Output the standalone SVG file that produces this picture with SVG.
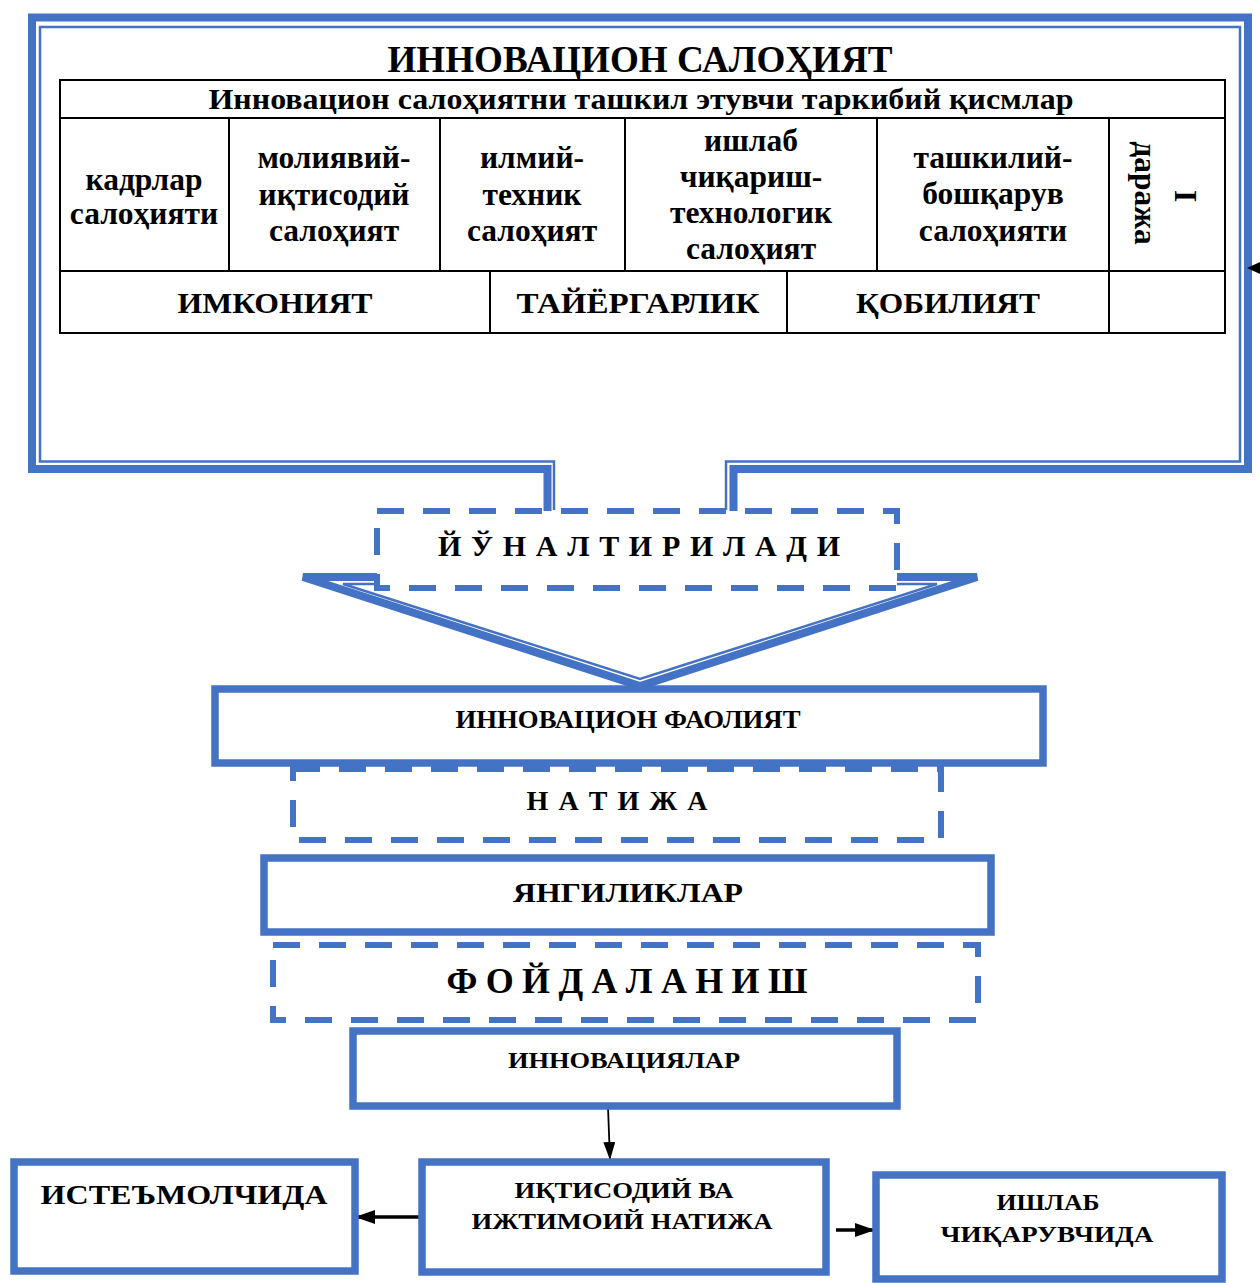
<svg xmlns="http://www.w3.org/2000/svg" width="1260" height="1283" viewBox="0 0 1260 1283">
<style>
.t{font-family:"Liberation Serif","Times New Roman",serif;font-weight:bold;fill:#000;text-anchor:middle}
.thick{fill:none;stroke:#4472C4;stroke-width:8}
.thin{fill:none;stroke:#4472C4;stroke-width:2.5}
.box{fill:#fff;stroke:#4472C4;stroke-width:7.5}
.dash{fill:#fff;stroke:#4472C4;stroke-width:6;stroke-dasharray:27 19}
.cell{fill:none;stroke:#000;stroke-width:2}
.conn{stroke:#000;fill:none}
</style>
<defs>
<marker id="ahS" markerUnits="userSpaceOnUse" markerWidth="18" markerHeight="12" refX="18" refY="6" orient="auto"><path d="M0,0 L18,6 L0,12 z" fill="#000"/></marker>
<marker id="ahB" markerUnits="userSpaceOnUse" markerWidth="20" markerHeight="14" refX="20" refY="7" orient="auto"><path d="M0,0 L20,7 L0,14 z" fill="#000"/></marker>
</defs>

<g id="innovation-potential">
<path class="thick" d="M547.5,512 V469 H32 V17.5 H1248 V469 H733.5 V512"/>
<path class="thin" d="M554,510 V461.5 H40 V27 H1240 V461.5 H726 V510"/>
<text class="t" x="640" y="72" font-size="37" textLength="505" lengthAdjust="spacingAndGlyphs">ИННОВАЦИОН САЛОҲИЯТ</text>
<g id="components-table">
<rect class="cell" x="60" y="80" width="1165" height="253"/>
<line class="cell" x1="60" y1="118" x2="1225" y2="118"/>
<line class="cell" x1="60" y1="271" x2="1225" y2="271"/>
<line class="cell" x1="229" y1="118" x2="229" y2="271"/>
<line class="cell" x1="440" y1="118" x2="440" y2="271"/>
<line class="cell" x1="625" y1="118" x2="625" y2="271"/>
<line class="cell" x1="877" y1="118" x2="877" y2="271"/>
<line class="cell" x1="1109" y1="118" x2="1109" y2="333"/>
<line class="cell" x1="490" y1="271" x2="490" y2="333"/>
<line class="cell" x1="787" y1="271" x2="787" y2="333"/>
<text class="t" x="641" y="109" font-size="29" textLength="865" lengthAdjust="spacingAndGlyphs">Инновацион салоҳиятни ташкил этувчи таркибий қисмлар</text>
<text class="t" font-size="31.5"><tspan x="144" y="190">кадрлар</tspan><tspan x="144" y="224">салоҳияти</tspan></text>
<text class="t" font-size="31.5"><tspan x="334" y="168">молиявий-</tspan><tspan x="334" y="205">иқтисодий</tspan><tspan x="334" y="241">салоҳият</tspan></text>
<text class="t" font-size="31.5"><tspan x="532" y="168">илмий-</tspan><tspan x="532" y="205">техник</tspan><tspan x="532" y="241">салоҳият</tspan></text>
<text class="t" font-size="31.5"><tspan x="751" y="151">ишлаб</tspan><tspan x="751" y="187">чиқариш-</tspan><tspan x="751" y="223">технологик</tspan><tspan x="751" y="259">салоҳият</tspan></text>
<text class="t" font-size="31.5"><tspan x="993" y="168">ташкилий-</tspan><tspan x="993" y="204">бошқарув</tspan><tspan x="993" y="241">салоҳияти</tspan></text>
<text class="t" font-size="31.5" transform="translate(1175,196) rotate(90)">I</text>
<text class="t" font-size="31.5" transform="translate(1135,193) rotate(90)">даража</text>
<text class="t" font-size="30" x="275" y="313" textLength="195" lengthAdjust="spacingAndGlyphs">ИМКОНИЯТ</text>
<text class="t" font-size="30" x="638" y="313" textLength="243" lengthAdjust="spacingAndGlyphs">ТАЙЁРГАРЛИК</text>
<text class="t" font-size="30" x="948" y="313" textLength="184" lengthAdjust="spacingAndGlyphs">ҚОБИЛИЯТ</text>
</g>
</g>

<g id="connectors">
<polygon points="303,577 977,577 640,686" fill="#fff" stroke="#4472C4" stroke-width="8" stroke-linejoin="miter"/>
<polygon points="343,584 937,584 640,679" fill="none" stroke="#4472C4" stroke-width="2.5"/>
<line class="conn" x1="608" y1="1107" x2="610" y2="1160" stroke-width="1.8" marker-end="url(#ahS)"/>
<line class="conn" x1="422" y1="1217" x2="355" y2="1217" stroke-width="3.5" marker-end="url(#ahB)"/>
<line class="conn" x1="836" y1="1230" x2="875" y2="1230" stroke-width="3.5" marker-end="url(#ahB)"/>
<polygon points="1247,268 1262,261 1262,275" fill="#000"/>
</g>

<g id="directed">
<rect class="dash" x="377" y="511" width="520" height="77"/>
<text class="t" x="639" y="556" font-size="30" textLength="402" lengthAdjust="spacing">Й Ў Н А Л Т И Р И Л А Д И</text>
</g>

<g id="result">
<rect class="dash" x="293" y="769" width="648" height="71"/>
<text class="t" x="617" y="810" font-size="28" textLength="181" lengthAdjust="spacing">Н А Т И Ж А</text>
</g>

<g id="innovation-activity">
<rect class="box" x="215" y="689" width="828" height="74"/>
<text class="t" x="628" y="728" font-size="26" textLength="345" lengthAdjust="spacingAndGlyphs">ИННОВАЦИОН ФАОЛИЯТ</text>
</g>

<g id="novelties">
<rect class="box" x="264" y="858" width="727" height="74"/>
<text class="t" x="628" y="902" font-size="28" textLength="230" lengthAdjust="spacingAndGlyphs">ЯНГИЛИКЛАР</text>
</g>

<g id="usage">
<rect class="dash" x="273" y="945" width="705" height="75"/>
<text class="t" x="627" y="993" font-size="36" textLength="361" lengthAdjust="spacing">Ф О Й Д А Л А Н И Ш</text>
</g>

<g id="innovations">
<rect class="box" x="353" y="1031" width="544" height="75"/>
<text class="t" x="624" y="1068" font-size="24" textLength="232" lengthAdjust="spacingAndGlyphs">ИННОВАЦИЯЛАР</text>
</g>

<g id="consumer">
<rect class="box" x="14" y="1162" width="341" height="109"/>
<text class="t" x="184" y="1204" font-size="28" textLength="287" lengthAdjust="spacingAndGlyphs">ИСТЕЪМОЛЧИДА</text>
</g>

<g id="econ-social-result">
<rect class="box" x="422" y="1162" width="404" height="110"/>
<text class="t" font-size="24"><tspan x="624" y="1198" textLength="219" lengthAdjust="spacingAndGlyphs">ИҚТИСОДИЙ ВА</tspan><tspan x="622" y="1229" textLength="301" lengthAdjust="spacingAndGlyphs">ИЖТИМОИЙ НАТИЖА</tspan></text>
</g>

<g id="producer">
<rect class="box" x="876" y="1175" width="346" height="104"/>
<text class="t" font-size="24"><tspan x="1048" y="1210" textLength="103" lengthAdjust="spacingAndGlyphs">ИШЛАБ</tspan><tspan x="1047" y="1242" textLength="213" lengthAdjust="spacingAndGlyphs">ЧИҚАРУВЧИДА</tspan></text>
</g>
</svg>
